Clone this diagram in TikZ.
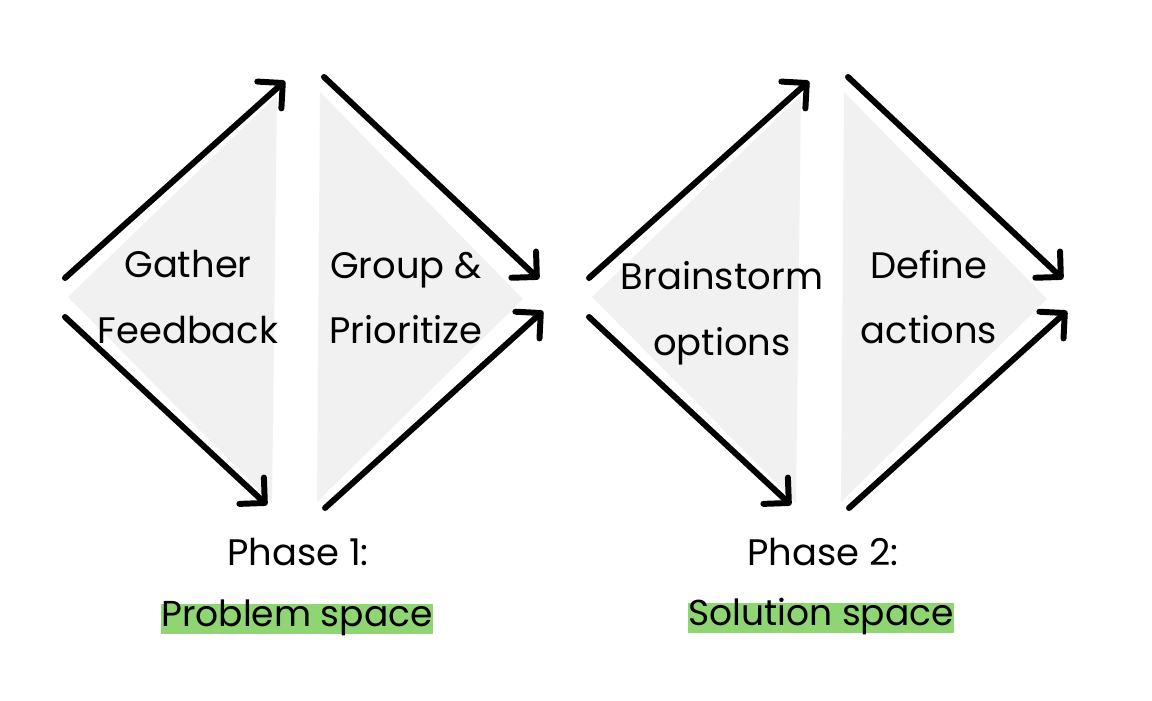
\documentclass[tikz,border=0pt]{standalone}
\usepackage{fontspec}
\setmainfont{Poppins}
\usetikzlibrary{arrows.meta}
\definecolor{paper}{HTML}{F1F1F1}
\definecolor{marker}{HTML}{90D573}
\begin{document}
\begin{tikzpicture}[x=0.02cm,y=-0.02cm]
  \tikzset{lbl/.style={align=center,font=\fontsize{21}{37.4}\selectfont,inner sep=0pt},
    flow/.style={line width=3.4pt,line cap=round,
      -{Straight Barb[length=0.36cm,width=0.72cm,round]}},
    half/.style={fill=paper,draw=none},
    hl/.style={fill=marker,inner xsep=0pt,inner ysep=0pt,text height=13pt,text depth=4pt,
      font=\fontsize{20.5}{26}\selectfont}}
  \useasboundingbox (0,0) rectangle (1152,700);
  % phase 1
  \fill[half] (68,297) -- (277,95) -- (272,503) -- cycle;
  \fill[half] (320,92) -- (523,299) -- (317,502) -- cycle;
  \coordinate (p1a) at (65,278);  \coordinate (p1b) at (285,81);
  \coordinate (p1c) at (65,317);  \coordinate (p1d) at (267,505);
  \coordinate (p1e) at (324,77);  \coordinate (p1f) at (539,279);
  \coordinate (p1g) at (325,508); \coordinate (p1h) at (543,311);
  \draw[flow] (p1a) -- (p1b);
  \draw[flow] (p1c) -- (p1d);
  \draw[flow] (p1e) -- (p1f);
  \draw[flow] (p1g) -- (p1h);
  \node[lbl] (gather) at (188,297) {Gather\\Feedback};
  \node[lbl] (group) at (406,298) {Group \&\\Prioritize};
  \node[lbl] (phaseA) at (298,552) {Phase 1:};
  \node[hl] (probA) at (297,619) {Problem space};
  % phase 2
  \fill[half] (592,297) -- (801,95) -- (796,503) -- cycle;
  \fill[half] (844,92) -- (1047,299) -- (841,502) -- cycle;
  \coordinate (p2a) at (589,278); \coordinate (p2b) at (809,81);
  \coordinate (p2c) at (589,317); \coordinate (p2d) at (791,505);
  \coordinate (p2e) at (848,77);  \coordinate (p2f) at (1063,279);
  \coordinate (p2g) at (849,508); \coordinate (p2h) at (1067,311);
  \draw[flow] (p2a) -- (p2b);
  \draw[flow] (p2c) -- (p2d);
  \draw[flow] (p2e) -- (p2f);
  \draw[flow] (p2g) -- (p2h);
  \node[lbl] (brain) at (722,313) {Brainstorm\\options};
  \node[lbl] (define) at (929,297) {Define\\actions};
  \node[lbl] (phaseB) at (823,552) {Phase 2:};
  \node[hl] (solB) at (821,618) {Solution space};
\end{tikzpicture}
\end{document}
